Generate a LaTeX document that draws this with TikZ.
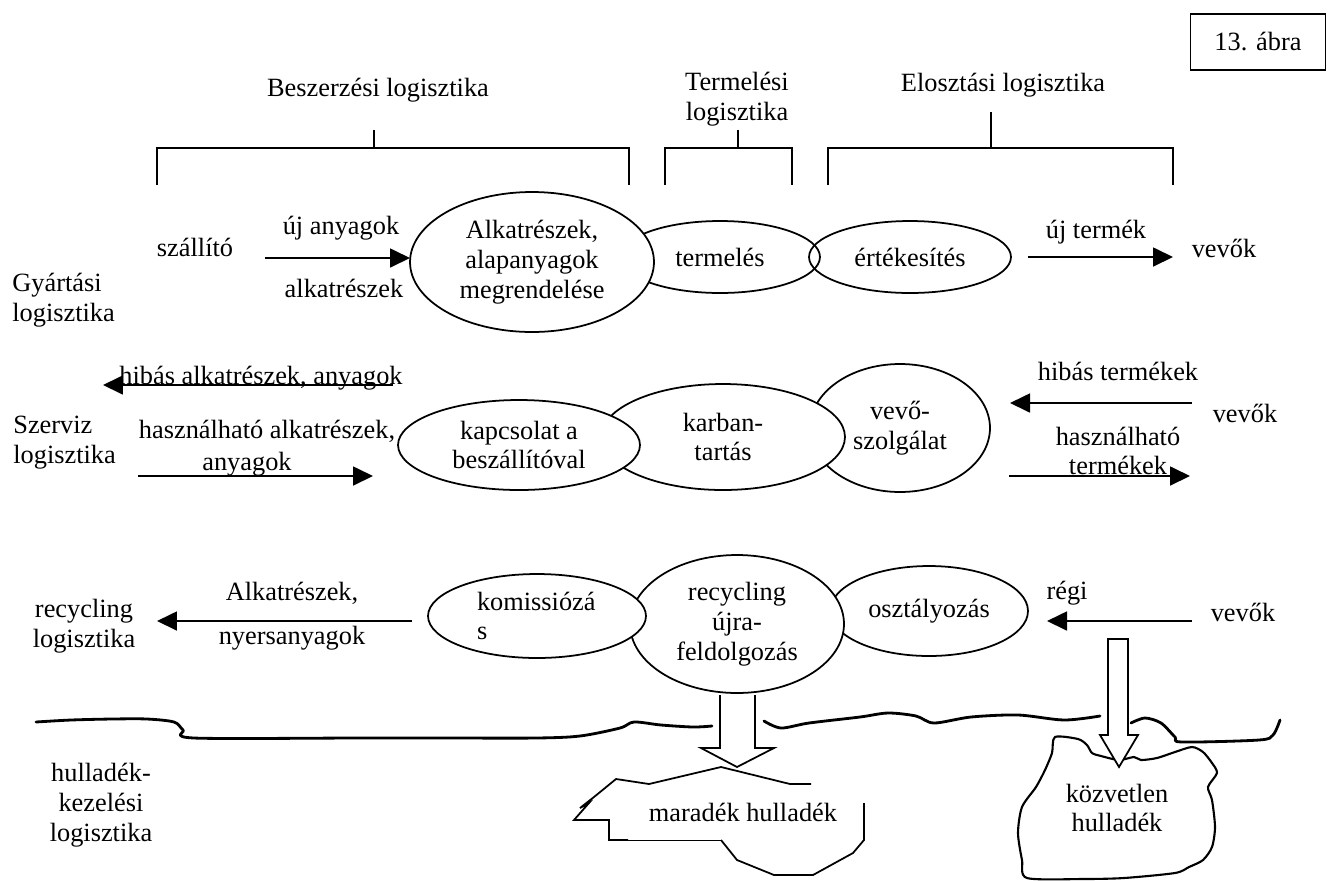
\documentclass[tikz,border=0pt]{standalone}
\usepackage{fontspec}
\setmainfont{Liberation Serif}
\usetikzlibrary{shapes.geometric, arrows.meta, positioning}

\begin{document}
\begin{tikzpicture}[
    x=0.02cm, y=-0.02cm,
    lbl/.style={align=center, inner sep=0pt, font=\fontsize{15}{17}\selectfont},
    oval/.style={draw, ellipse, fill=white, inner sep=0pt, line width=1pt,
      align=center, font=\fontsize{15}{17}\selectfont},
    arrow/.style={line width=1pt, -{Triangle[length=0.4cm, width=0.38cm]}},
    brace/.style={line width=1pt},
    ground/.style={line width=1.6pt, line cap=round, line join=round},
    hollow/.style={draw, fill=white, line width=1pt}
]
\useasboundingbox (0,0) rectangle (1328,880);

\node[draw, lbl, line width=1pt, minimum width=2.7cm, minimum height=1.12cm] (fig) at (1258,42) {13. ábra};

% headings and brackets
\node[lbl] (besz) at (378,90) {Beszerzési logisztika};
\node[lbl] (term) at (737,99) {Termelési\\logisztika};
\node[lbl] (elo) at (1003,85) {Elosztási logisztika};
\draw[brace] (157,185) |- (629,148) -- (629,185);
\draw[brace] (374,148) -- (374,130);
\draw[brace] (665,185) |- (792,148) -- (792,185);
\draw[brace] (738,148) -- (738,130);
\draw[brace] (828,185) |- (1173,148) -- (1173,185);
\draw[brace] (991,148) -- (991,112);

% left column
\node[lbl, align=left, anchor=west] (gyart) at (12,300) {Gyártási\\logisztika};
\node[lbl, align=left, anchor=west] (szerv) at (13,443) {Szerviz\\logisztika};
\node[lbl] (recl) at (84,626) {recycling\\logisztika};
\node[lbl] (hullk) at (101,805) {hulladék-\\kezelési\\logisztika};

% ground line
\draw[ground] plot[smooth, tension=0.5] coordinates {(36,722) (71,720) (112,719) (147,719) (174,722)
  (183,730) (194,738) (357,738) (446,738) (536,738) (580,736) (620,728) (634,722) (661,725) (693,727) (712,726)};
\draw[ground] plot[smooth, tension=0.5] coordinates {(764,721) (781,728) (809,723) (860,717) (888,713)
  (916,716) (934,723) (971,717) (1018,715) (1064,720) (1100,716)};
\draw[ground] plot[smooth, tension=0.5] coordinates {(1131,723) (1145,718) (1161,723) (1175,737)
  (1182,742) (1259,740) (1273,735) (1280,720)};

% waste heaps
\draw[line width=1.2pt, line join=round] plot[smooth cycle, tension=0.45] coordinates {(1055,737) (1078,739)
  (1087,745) (1092,753) (1101,756) (1119,760) (1134,757) (1141,760) (1157,758) (1175,752) (1192,747)
  (1203,752) (1212,763) (1217,773) (1208,787) (1212,800) (1215,827) (1212,847) (1203,860) (1189,867)
  (1175,873) (1124,878) (1083,879) (1027,878) (1022,860) (1018,833) (1022,807) (1036,787) (1045,770) (1052,753)};
\draw[line width=1pt] (811,784) -- (790,784) -- (721,767) -- (649,784) -- (616,779) -- (594,797)
  -- (580,808) -- (589,803) -- (574,820) -- (609,820) -- (609,840) -- (628,840);
\draw[line width=0.5pt] (628,840) -- (721,840);
\draw[line width=1pt] (721,840) -- (737,860) -- (774,875) -- (813,875) -- (853,853) -- (864,840) -- (864,803);
\node[lbl] (marad) at (743,812) {maradék hulladék};
\node[lbl] (kozv) at (1117,808) {közvetlen\\hulladék};

% row 1
\node[oval, minimum width=4.0cm, minimum height=1.44cm] (termeles) at (720,257) {termelés};
\node[oval, fill=none, minimum width=4.04cm, minimum height=1.44cm] (ertek) at (910,257) {értékesítés};
\node[oval, minimum width=4.88cm, minimum height=2.8cm] (rendel) at (532,262) {Alkatrészek,\\alapanyagok\\megrendelése};
\node[lbl] (szall) at (195,247) {szállító};
\node[lbl] (ujany) at (341,228) {új anyagok};
\node[lbl] (alkat) at (344,288) {alkatrészek};
\node[lbl] (ujterm) at (1096,232) {új termék};
\node[lbl] (vevo1) at (1224,248) {vevők};
\coordinate (supA) at (265,258);
\coordinate (supB) at (410,258);
\coordinate (prodA) at (1028,257);
\coordinate (prodB) at (1173,257);
\draw[arrow] (supA) -- (supB);
\draw[arrow] (prodA) -- (prodB);

% row 2
\node[oval, minimum width=3.6cm, minimum height=2.56cm] (vevoszolg) at (900,428) {vevő-\\szolgálat};
\node[oval, minimum width=4.88cm, minimum height=2.12cm] (karban) at (723,437) {karban-\\tartás};
\node[oval, minimum width=4.84cm, minimum height=1.8cm] (kapcs) at (519,445) {kapcsolat a\\beszállítóval};
\node[lbl, anchor=base] (hibalk) at (261,384) {hibás alkatrészek, anyagok};
\node[lbl, anchor=base] (haszalk) at (267,438) {használható alkatrészek,};
\node[lbl, anchor=base] (haszany) at (247,470) {anyagok};
\node[lbl, anchor=base] (hibterm) at (1118,380) {hibás termékek};
\node[lbl] (vevo2) at (1245,413) {vevők};
\node[lbl] (haszterm) at (1118,451) {használható\\termékek};
\coordinate (defA) at (393,385);
\coordinate (defB) at (103,385);
\coordinate (useA) at (138,476);
\coordinate (useB) at (373,476);
\coordinate (dprA) at (1192,403);
\coordinate (dprB) at (1010,403);
\coordinate (uprA) at (1009,476);
\coordinate (uprB) at (1190,476);
\draw[arrow] (defA) -- (defB);
\draw[arrow] (useA) -- (useB);
\draw[arrow] (dprA) -- (dprB);
\draw[arrow] (uprA) -- (uprB);

% row 3
\node[oval, minimum width=3.96cm, minimum height=1.8cm] (osztaly) at (929,611) {osztályozás};
\node[oval, minimum width=4.28cm, minimum height=2.76cm] (recyc) at (737,624) {recycling\\újra-\\feldolgozás};
\node[oval, minimum width=4.36cm, minimum height=1.68cm, text width=2.4cm, align=left] (komiss) at (537,616) {komissiózá\\s};
\node[lbl] (alk2) at (292,593) {Alkatrészek,};
\node[lbl] (nyers) at (292,638) {nyersanyagok};
\node[lbl] (regi) at (1067,593) {régi};
\node[lbl] (vevo3) at (1243,612) {vevők};
\coordinate (recA) at (412,621);
\coordinate (recB) at (157,621);
\coordinate (oldA) at (1192,621);
\coordinate (oldB) at (1047,621);
\draw[arrow] (recA) -- (recB);
\draw[arrow] (oldA) -- (oldB);

% block arrows
\path[hollow] (720,695) -- (720,748) -- (701,748) -- (737,767) -- (774,748) -- (755,748) -- (755,695);
\path[hollow] (1108,639) -- (1108,735) -- (1100,735) -- (1119,767) -- (1138,735) -- (1128,735) -- (1128,639) -- cycle;
\end{tikzpicture}
\end{document}
